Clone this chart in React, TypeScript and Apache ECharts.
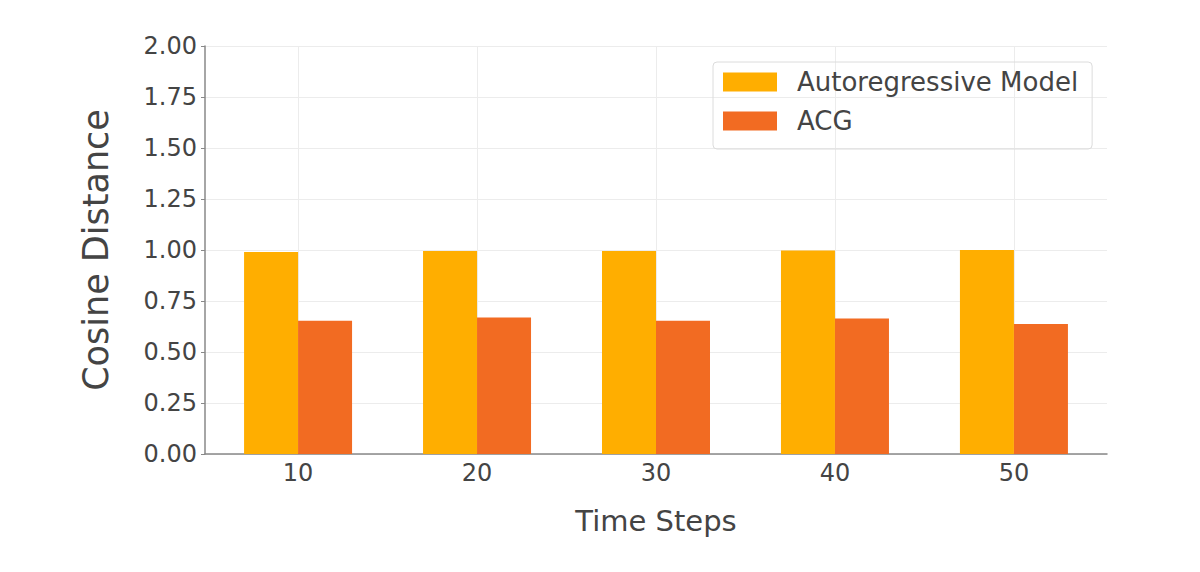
import React, { useEffect, useRef } from "react";
import * as echarts from "echarts";

// ── Data ──
const timeSteps = [10, 20, 30, 40, 50];
const autoregressive = [0.99, 0.995, 0.995, 0.997, 1.0];
const acg = [0.653, 0.669, 0.653, 0.664, 0.637];
const seriesNames = ["Autoregressive Model", "ACG"];
const colors = ["#FFAE00", "#F26B22"];

const FONT = "DejaVu Sans";
const TEXT = "#444";

export default function App() {
  const chartRef = useRef<HTMLDivElement>(null);

  useEffect(() => {
    if (!chartRef.current) return;
    const chart = echarts.init(chartRef.current, undefined, { renderer: "svg" });

    const option: echarts.EChartsOption = {
      backgroundColor: "#fff",
      animation: false,
      textStyle: { fontFamily: FONT },

      legend: {
        data: seriesNames,
        orient: "vertical",
        left: 713,
        top: 62,
        padding: [7, 14, 15, 10],
        itemWidth: 54,
        itemHeight: 19,
        itemGap: 13,
        icon: "rect",
        borderColor: "#dcdcdc",
        borderWidth: 1,
        borderRadius: 4,
        textStyle: {
          color: TEXT,
          fontSize: 26,
          fontFamily: FONT,
          padding: [0, 0, 0, 15],
        },
      },

      grid: {
        left: 205,
        top: 46,
        width: 902,
        height: 408,
        containLabel: false,
      },

      xAxis: {
        type: "value",
        min: 4.8,
        max: 55.2,
        splitNumber: 5,
        name: "Time Steps",
        nameLocation: "middle",
        nameGap: 52,
        nameTextStyle: { color: TEXT, fontSize: 29, fontFamily: FONT },
        axisLine: { show: true, lineStyle: { color: "#888", width: 1.5 } },
        axisTick: { show: false },
        axisLabel: {
          color: TEXT,
          fontSize: 24,
          fontFamily: FONT,
          margin: 7,
          showMinLabel: false,
          showMaxLabel: false,
        },
        splitLine: {
          show: true,
          showMinLine: false,
          showMaxLine: false,
          lineStyle: { color: "#ececec", width: 1 },
        },
      },

      yAxis: {
        type: "value",
        min: 0,
        max: 2,
        interval: 0.25,
        name: "Cosine Distance",
        nameLocation: "middle",
        nameRotate: 90,
        nameGap: 92,
        nameTextStyle: { color: TEXT, fontSize: 35, fontFamily: FONT },
        axisLine: { show: true, lineStyle: { color: "#888", width: 1.5 } },
        axisTick: { show: true, length: 4, lineStyle: { color: "#888" } },
        axisLabel: {
          color: TEXT,
          fontSize: 24,
          fontFamily: FONT,
          margin: 8,
          formatter: (v: number) => v.toFixed(2),
        },
        splitLine: { show: true, lineStyle: { color: "#ececec", width: 1 } },
      },

      series: [autoregressive, acg].map((vals, i) => ({
        name: seriesNames[i],
        type: "bar" as const,
        data: vals.map((v, j) => [timeSteps[j], v]),
        barWidth: 54,
        barGap: "0%",
        itemStyle: { color: colors[i] },
      })),
    };

    chart.setOption(option);
    return () => chart.dispose();
  }, []);

  return (
    <div
      ref={chartRef}
      style={{ position: "fixed", left: 0, top: 0, width: 1200, height: 572 }}
    />
  );
}
